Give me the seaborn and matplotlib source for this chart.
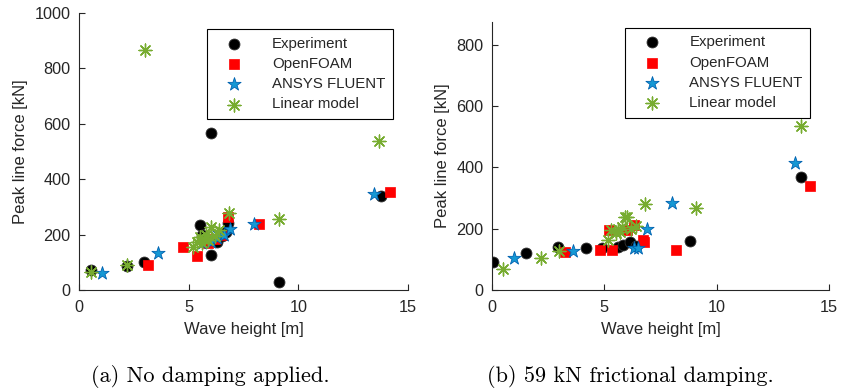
import matplotlib
matplotlib.use("Agg")
import matplotlib.pyplot as plt
import seaborn as sns

# ---- (a) no damping applied ----
exp_a_h = [0.55, 2.2, 2.95, 5.5, 5.6, 5.8, 6.0, 6.0, 6.3, 6.5, 6.7, 6.8, 9.1, 13.75]
exp_a_f = [72, 88, 100, 235, 200, 185, 565, 127, 174, 195, 210, 242, 29, 340]

ofoam_a_h = [3.15, 4.75, 5.4, 5.9, 6.2, 6.5, 6.8, 8.2, 14.2]
ofoam_a_f = [90, 156, 123, 170, 185, 200, 262, 237, 355]

fluent_a_h = [1.05, 3.6, 5.6, 6.0, 6.3, 6.4, 6.6, 6.9, 8.0, 13.45]
fluent_a_f = [62, 134, 170, 175, 188, 206, 200, 219, 237, 346]

linear_a_h = [0.55, 2.2, 3.0, 5.2, 5.4, 5.5, 5.6, 5.7, 5.8, 5.9, 6.0, 6.2, 6.4, 6.85, 9.1, 13.7]
linear_a_f = [65, 90, 866, 156, 175, 190, 170, 185, 200, 180, 228, 195, 215, 279, 257, 537]

# ---- (b) 59 kN frictional damping ----
exp_b_h = [0.05, 1.5, 2.95, 4.2, 4.9, 5.6, 5.85, 6.15, 6.4, 8.8, 13.75]
exp_b_f = [92, 121, 141, 137, 137, 141, 147, 157, 145, 160, 369]

ofoam_b_h = [3.25, 4.8, 5.35, 5.2, 6.0, 6.3, 6.7, 6.75, 8.2, 14.15]
ofoam_b_f = [124, 131, 131, 196, 196, 212, 163, 157, 131, 340]

fluent_b_h = [1.0, 3.6, 6.3, 6.5, 6.9, 8.0, 13.5]
fluent_b_f = [105, 128, 137, 137, 199, 284, 416]

linear_b_h = [0.5, 2.2, 3.0, 5.15, 5.3, 5.5, 5.6, 5.7, 5.8, 5.9, 6.0, 6.2, 6.4, 6.8, 9.1, 13.75]
linear_b_f = [69, 104, 128, 163, 195, 185, 200, 190, 205, 238, 238, 200, 210, 281, 268, 536]

series_names = ["Experiment", "OpenFOAM", "ANSYS FLUENT", "Linear model"]
captions = ["(a) No damping applied.", "(b) 59 kN frictional damping."]

sns.set_theme(style="white")
plt.rcParams["font.family"] = ["Liberation Sans", "DejaVu Sans"]

W, H = 842, 391
fig = plt.figure(figsize=(W / 100, H / 100), dpi=100)


def px_axes(left, top, right, bottom):
    return fig.add_axes([left / W, 1 - bottom / H, (right - left) / W, (bottom - top) / H])


ax_a = px_axes(79, 13, 408, 290)
ax_b = px_axes(492, 22, 829, 290)

styles = [
    dict(marker="o", s=62, color="black", edgecolor="#333333", linewidth=0.6),
    dict(marker="s", s=48, color="#ff0000", edgecolor="#ff0000", linewidth=0.5),
    dict(marker="*", s=100, color="#1598d4", edgecolor="#0062b0", linewidth=0.6),
    dict(marker=(8, 2, 0), s=85, color="#77ac30", linewidth=1.0),
]

data_a = [(exp_a_h, exp_a_f), (ofoam_a_h, ofoam_a_f), (fluent_a_h, fluent_a_f), (linear_a_h, linear_a_f)]
data_b = [(exp_b_h, exp_b_f), (ofoam_b_h, ofoam_b_f), (fluent_b_h, fluent_b_f), (linear_b_h, linear_b_f)]

axis_col = "#262626"

for ax, data, ylim, yticks, leg_anchor in [
    (ax_a, data_a, (0, 1000), range(0, 1001, 200), (0.954, 0.942)),
    (ax_b, data_b, (0, 875), range(0, 801, 200), (0.944, 0.978)),
]:
    for (h, f), name, st in zip(data, series_names, styles):
        sns.scatterplot(x=h, y=f, ax=ax, label=name, **st)
    ax.set_xlim(0, 15)
    ax.set_ylim(*ylim)
    ax.set_xticks([0, 5, 10, 15])
    ax.set_yticks(list(yticks))
    ax.set_xlabel("Wave height [m]", fontsize=12, color=axis_col, labelpad=5)
    ax.set_ylabel("Peak line force [kN]", fontsize=12, color=axis_col, labelpad=5)
    for side in ["top", "right"]:
        ax.spines[side].set_visible(False)
    for side in ["left", "bottom"]:
        ax.spines[side].set_color(axis_col)
        ax.spines[side].set_linewidth(0.8)
    ax.tick_params(direction="in", length=4, width=0.8, colors=axis_col,
                   labelsize=11.7, left=True, bottom=True, top=False, right=False)
    ax.tick_params(axis="x", pad=7)
    ax.tick_params(axis="y", pad=6)
    ax.patch.set_alpha(0)
    leg = ax.legend(loc="upper right", bbox_to_anchor=leg_anchor, fontsize=10.8,
                    frameon=True, fancybox=False, edgecolor="black", framealpha=1,
                    handletextpad=1.2, borderpad=0.5, labelspacing=0.42,
                    borderaxespad=0, handlelength=2.6)
    leg.get_frame().set_linewidth(0.8)

fig.text(210 / W, 1 - 376 / H, captions[0], ha="center", va="center",
         family="cmr10", fontsize=16, color="black")
fig.text(630 / W, 1 - 376 / H, captions[1], ha="center", va="center",
         family="cmr10", fontsize=16, color="black")

fig.savefig("out.png", dpi=100)
